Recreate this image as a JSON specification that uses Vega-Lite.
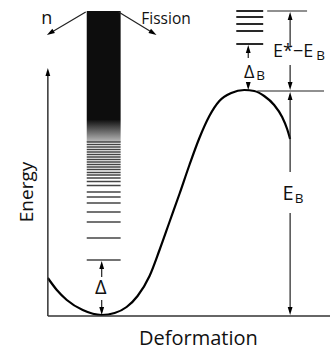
{
  "$schema": "https://vega.github.io/schema/vega-lite/v6.json",
  "width": 331,
  "height": 351,
  "autosize": {"type": "fit", "contains": "padding"},
  "padding": 0,
  "background": "white",
  "config": {"view": {"stroke": null}, "text": {"font": "Open Sans"}},
  "datasets": {
    "curve": [
      {"d": 48, "E": 73}, {"d": 57, "E": 61}, {"d": 67, "E": 51}, {"d": 83, "E": 41},
      {"d": 102, "E": 36}, {"d": 115, "E": 38}, {"d": 127, "E": 44}, {"d": 138, "E": 55},
      {"d": 150, "E": 75}, {"d": 160, "E": 101}, {"d": 170, "E": 129}, {"d": 180, "E": 157},
      {"d": 190, "E": 186}, {"d": 200, "E": 213}, {"d": 210, "E": 235}, {"d": 220, "E": 250},
      {"d": 232, "E": 258}, {"d": 245, "E": 261}, {"d": 255, "E": 260}, {"d": 265, "E": 255},
      {"d": 275, "E": 246}, {"d": 283, "E": 234}, {"d": 288, "E": 222}, {"d": 291, "E": 212}
    ],
    "band": [
      {"x": 87, "x2": 121, "y": 231, "y2": 340, "g": "dark"},
      {"x": 87, "x2": 121, "y": 209, "y2": 231, "g": "grad"}
    ],
    "levels": [
      {"E": 209}, {"E": 206.5}, {"E": 204}, {"E": 201.5}, {"E": 199}, {"E": 196.5},
      {"E": 194}, {"E": 191.5}, {"E": 189}, {"E": 186.5}, {"E": 184}, {"E": 181.5},
      {"E": 178.5}, {"E": 176}, {"E": 173}, {"E": 169.5}, {"E": 165.5}, {"E": 159},
      {"E": 154}, {"E": 148}, {"E": 139}, {"E": 129}, {"E": 113}, {"E": 91}
    ],
    "segs": [
      {"x": 48, "y": 35, "x2": 48, "y2": 279, "g": "axis"},
      {"x": 48, "y": 35, "x2": 331, "y2": 35, "g": "axis"},
      {"x": 86, "y": 339, "x2": 50.4, "y2": 318, "g": "ann"},
      {"x": 119, "y": 339, "x2": 153.6, "y2": 318, "g": "ann"},
      {"x": 102, "y": 87, "x2": 102, "y2": 74, "g": "ann"},
      {"x": 102, "y": 51, "x2": 102, "y2": 39, "g": "ann"},
      {"x": 249, "y": 303, "x2": 249, "y2": 293, "g": "ann"},
      {"x": 249, "y": 268, "x2": 249, "y2": 264, "g": "ann"},
      {"x": 268, "y": 340, "x2": 308, "y2": 340, "g": "ann"},
      {"x": 291, "y": 336, "x2": 291, "y2": 305, "g": "ann"},
      {"x": 291, "y": 286, "x2": 291, "y2": 264, "g": "ann"},
      {"x": 258, "y": 260, "x2": 325, "y2": 260, "g": "ann"},
      {"x": 291, "y": 256, "x2": 291, "y2": 179, "g": "ann"},
      {"x": 291, "y": 138, "x2": 291, "y2": 39, "g": "ann"},
      {"x": 237, "y": 340, "x2": 264, "y2": 340, "g": "lvlR"},
      {"x": 237, "y": 334, "x2": 264, "y2": 334, "g": "lvlR"},
      {"x": 237, "y": 327, "x2": 264, "y2": 327, "g": "lvlR"},
      {"x": 237, "y": 320, "x2": 264, "y2": 320, "g": "lvlR"},
      {"x": 237, "y": 307, "x2": 264, "y2": 307, "g": "lvlR"}
    ],
    "heads": [
      {"x": 48, "y": 279, "dir": "up"},
      {"x": 102, "y": 86, "dir": "up"},
      {"x": 249, "y": 302, "dir": "up"},
      {"x": 291, "y": 335, "dir": "up"},
      {"x": 291, "y": 255, "dir": "up"},
      {"x": 102, "y": 40, "dir": "down"},
      {"x": 249, "y": 265, "dir": "down"},
      {"x": 291, "y": 265, "dir": "down"},
      {"x": 291, "y": 40, "dir": "down"},
      {"x": 50.4, "y": 318, "dir": "dl"},
      {"x": 153.6, "y": 318, "dir": "dr"}
    ],
    "texts": [
      {"x": 47, "y": 327, "t": "n", "g": "mid"},
      {"x": 166.5, "y": 327, "t": "Fission", "g": "small"},
      {"x": 294, "y": 294, "t": "E*−E", "g": "mid"},
      {"x": 321.5, "y": 291, "t": "B", "g": "sub"},
      {"x": 250, "y": 273, "t": "Δ", "g": "mid"},
      {"x": 261.5, "y": 271, "t": "B", "g": "sub"},
      {"x": 101, "y": 57, "t": "Δ", "g": "big"},
      {"x": 289, "y": 151, "t": "E", "g": "big"},
      {"x": 300, "y": 148, "t": "B", "g": "sub"},
      {"x": 199, "y": 6, "t": "Deformation", "g": "big"},
      {"x": 33, "y": 159, "t": "Energy", "g": "rot"}
    ]
  },
  "encoding": {
    "x": {"type": "quantitative", "scale": {"domain": [0, 331], "nice": false, "zero": false}, "axis": null},
    "y": {"type": "quantitative", "scale": {"domain": [0, 351], "nice": false, "zero": false}, "axis": null}
  },
  "layer": [
    {
      "data": {"name": "band"},
      "transform": [{"filter": "datum.g === 'dark'"}],
      "mark": {"type": "rect", "color": "#0d0d0d"},
      "encoding": {"x": {"field": "x"}, "x2": {"field": "x2"}, "y": {"field": "y"}, "y2": {"field": "y2"}}
    },
    {
      "data": {"name": "band"},
      "transform": [{"filter": "datum.g === 'grad'"}],
      "mark": {"type": "rect", "color": {"gradient": "linear", "x1": 0, "y1": 0, "x2": 0, "y2": 1, "stops": [{"offset": 0, "color": "#111111"}, {"offset": 0.5, "color": "#666666"}, {"offset": 1, "color": "#bbbbbb"}]}},
      "encoding": {"x": {"field": "x"}, "x2": {"field": "x2"}, "y": {"field": "y"}, "y2": {"field": "y2"}}
    },
    {
      "data": {"name": "levels"},
      "mark": {"type": "rule", "color": "#444444", "strokeWidth": 1.4},
      "encoding": {"x": {"datum": 87}, "x2": {"datum": 121}, "y": {"field": "E"}}
    },
    {
      "data": {"name": "curve"},
      "mark": {"type": "line", "color": "black", "strokeWidth": 2.2, "interpolate": "monotone"},
      "encoding": {"x": {"field": "d"}, "y": {"field": "E"}}
    },
    {
      "data": {"name": "segs"},
      "transform": [{"filter": "datum.g === 'axis'"}],
      "mark": {"type": "rule", "color": "#333333", "strokeWidth": 1.5},
      "encoding": {"x": {"field": "x"}, "y": {"field": "y"}, "x2": {"field": "x2"}, "y2": {"field": "y2"}}
    },
    {
      "data": {"name": "segs"},
      "transform": [{"filter": "datum.g === 'ann'"}],
      "mark": {"type": "rule", "color": "#222222", "strokeWidth": 1.2},
      "encoding": {"x": {"field": "x"}, "y": {"field": "y"}, "x2": {"field": "x2"}, "y2": {"field": "y2"}}
    },
    {
      "data": {"name": "segs"},
      "transform": [{"filter": "datum.g === 'lvlR'"}],
      "mark": {"type": "rule", "color": "#111111", "strokeWidth": 1.8},
      "encoding": {"x": {"field": "x"}, "y": {"field": "y"}, "x2": {"field": "x2"}, "y2": {"field": "y2"}}
    },
    {
      "data": {"name": "heads"},
      "transform": [{"filter": "datum.dir === 'up'"}],
      "mark": {"type": "point", "filled": true, "color": "black", "opacity": 1, "shape": "M0,-1L0.6,1L-0.6,1Z", "size": 64, "angle": 0},
      "encoding": {"x": {"field": "x"}, "y": {"field": "y"}}
    },
    {
      "data": {"name": "heads"},
      "transform": [{"filter": "datum.dir === 'down'"}],
      "mark": {"type": "point", "filled": true, "color": "black", "opacity": 1, "shape": "M0,-1L0.6,1L-0.6,1Z", "size": 64, "angle": 180},
      "encoding": {"x": {"field": "x"}, "y": {"field": "y"}}
    },
    {
      "data": {"name": "heads"},
      "transform": [{"filter": "datum.dir === 'dl'"}],
      "mark": {"type": "point", "filled": true, "color": "black", "opacity": 1, "shape": "M0,-1L0.6,1L-0.6,1Z", "size": 64, "angle": 238},
      "encoding": {"x": {"field": "x"}, "y": {"field": "y"}}
    },
    {
      "data": {"name": "heads"},
      "transform": [{"filter": "datum.dir === 'dr'"}],
      "mark": {"type": "point", "filled": true, "color": "black", "opacity": 1, "shape": "M0,-1L0.6,1L-0.6,1Z", "size": 64, "angle": 122},
      "encoding": {"x": {"field": "x"}, "y": {"field": "y"}}
    },
    {
      "data": {"name": "texts"},
      "transform": [{"filter": "datum.g === 'big'"}],
      "mark": {"type": "text", "fontSize": 20, "color": "#111111", "align": "center", "baseline": "alphabetic"},
      "encoding": {"x": {"field": "x"}, "y": {"field": "y"}, "text": {"field": "t"}}
    },
    {
      "data": {"name": "texts"},
      "transform": [{"filter": "datum.g === 'mid'"}],
      "mark": {"type": "text", "fontSize": 18, "color": "#111111", "align": "center", "baseline": "alphabetic"},
      "encoding": {"x": {"field": "x"}, "y": {"field": "y"}, "text": {"field": "t"}}
    },
    {
      "data": {"name": "texts"},
      "transform": [{"filter": "datum.g === 'small'"}],
      "mark": {"type": "text", "fontSize": 15.5, "color": "#111111", "align": "center", "baseline": "alphabetic"},
      "encoding": {"x": {"field": "x"}, "y": {"field": "y"}, "text": {"field": "t"}}
    },
    {
      "data": {"name": "texts"},
      "transform": [{"filter": "datum.g === 'sub'"}],
      "mark": {"type": "text", "fontSize": 13.5, "color": "#111111", "align": "center", "baseline": "alphabetic"},
      "encoding": {"x": {"field": "x"}, "y": {"field": "y"}, "text": {"field": "t"}}
    },
    {
      "data": {"name": "texts"},
      "transform": [{"filter": "datum.g === 'rot'"}],
      "mark": {"type": "text", "fontSize": 19, "color": "#111111", "align": "center", "baseline": "alphabetic", "angle": 270},
      "encoding": {"x": {"field": "x"}, "y": {"field": "y"}, "text": {"field": "t"}}
    }
  ]
}
